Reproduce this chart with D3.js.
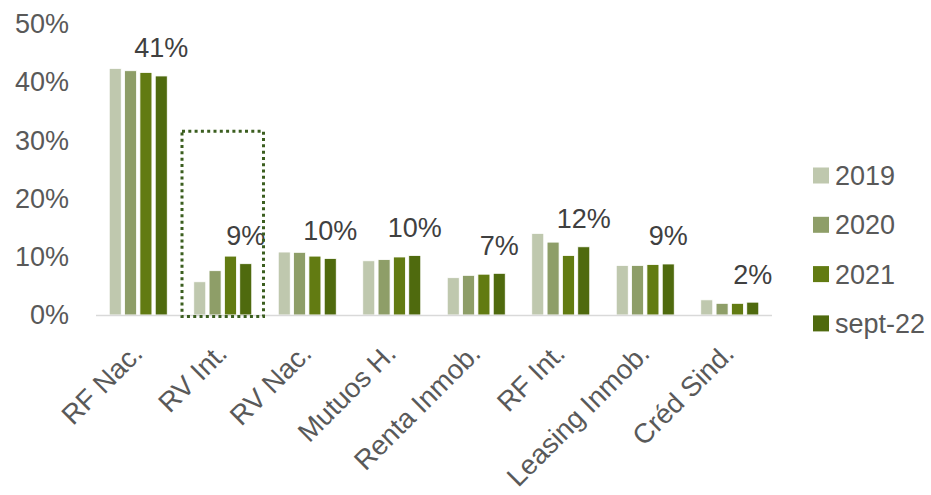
<!DOCTYPE html>
<html>
<head>
<meta charset="utf-8">
<script src="https://cdn.jsdelivr.net/npm/d3@7"></script>
<style>
  html, body { margin: 0; padding: 0; background: #fff; }
  svg { display: block; font-family: "Liberation Sans", Arial, sans-serif; }
</style>
</head>
<body>
<svg id="chart" width="931" height="495"></svg>
<script>
const categories = ["RF Nac.", "RV Int.", "RV Nac.", "Mutuos H.", "Renta Inmob.", "RF Int.", "Leasing Inmob.", "Créd Sind."];
const seriesNames = ["2019", "2020", "2021", "sept-22"];
const values2019 = [42.3, 5.7, 10.8, 9.3, 6.4, 14.0, 8.5, 2.6];
const values2020 = [41.9, 7.6, 10.75, 9.5, 6.8, 12.5, 8.5, 2.0];
const values2021 = [41.6, 10.1, 10.1, 9.95, 7.0, 10.2, 8.65, 2.0];
const valuesSept22 = [41.0, 8.8, 9.7, 10.2, 7.15, 11.7, 8.75, 2.2];
const dataLabels = ["41%", "9%", "10%", "10%", "7%", "12%", "9%", "2%"];
const yTicks = [0, 10, 20, 30, 40, 50];
const colors = ["#BFC8AE", "#8E9E68", "#627B12", "#4F6A0E"];
const highlightCategory = "RV Int.";
const highlightTop = 31.5;

const series = [values2019, values2020, values2021, valuesSept22];
const svg = d3.select("#chart");

const x0 = d3.scaleBand().domain(categories).range([96, 772]).paddingInner(0.3136).paddingOuter(0.1568);
const x1 = d3.scaleBand().domain(seriesNames).range([0, x0.bandwidth()]).paddingInner(0.217).paddingOuter(0);
const y = d3.scaleLinear().domain([0, 50]).range([315, 23.5]);

// y axis labels
svg.append("g").selectAll("text").data(yTicks).join("text")
  .attr("x", 69).attr("y", d => y(d)).attr("dy", "0.35em")
  .attr("text-anchor", "end").attr("font-size", 27).attr("fill", "#595959")
  .text(d => d + "%");

// bars
const groups = svg.append("g").selectAll("g").data(categories).join("g")
  .attr("transform", d => `translate(${x0(d)},0)`);
groups.selectAll("rect").data((c, i) => seriesNames.map((s, j) => ({ s, v: series[j][i], j })))
  .join("rect")
  .attr("x", d => x1(d.s)).attr("width", x1.bandwidth())
  .attr("y", d => y(d.v)).attr("height", d => y(0) - y(d.v))
  .attr("fill", d => colors[d.j])
  .attr("stroke", "#ffffff").attr("stroke-width", 0.8);

// baseline
svg.append("line").attr("x1", 96).attr("x2", 772).attr("y1", y(0) + 0.5).attr("y2", y(0) + 0.5)
  .attr("stroke", "#D9D9D9").attr("stroke-width", 1.5);

// data labels (above sept-22 bar)
svg.append("g").selectAll("text").data(categories).join("text")
  .attr("x", (c) => x0(c) + x1("sept-22") + x1.bandwidth() / 2)
  .attr("y", (c, i) => y(valuesSept22[i]) - 18.5)
  .attr("text-anchor", "middle").attr("font-size", 27).attr("fill", "#404040")
  .text((c, i) => dataLabels[i]);

// x labels
svg.append("g").selectAll("text").data(categories).join("text")
  .attr("transform", c => `translate(${x0(c) + x0.bandwidth() / 2 + 6},355) rotate(-45)`)
  .attr("text-anchor", "end").attr("font-size", 27.5).attr("fill", "#595959")
  .text(c => c);

// highlight dotted box
const hx = x0(highlightCategory);
const pad = (x0.step() - x0.bandwidth()) / 2;
svg.append("rect")
  .attr("x", hx - pad + 1.5).attr("y", y(highlightTop))
  .attr("width", x0.step() - 3).attr("height", y(0) + 1.5 - y(highlightTop))
  .attr("fill", "none").attr("stroke", "#3B5E1F").attr("stroke-width", 3)
  .attr("stroke-dasharray", "3,3.3");

// legend
const legend = svg.append("g").selectAll("g").data(seriesNames).join("g")
  .attr("transform", (d, i) => `translate(813,${175.5 + i * 49.3})`);
legend.append("rect").attr("x", 0).attr("y", -8).attr("width", 16).attr("height", 16)
  .attr("fill", (d, i) => colors[i]);
legend.append("text").attr("x", 22).attr("y", 0).attr("dy", "0.35em")
  .attr("font-size", 27).attr("fill", "#595959").text(d => d);
</script>
</body>
</html>
